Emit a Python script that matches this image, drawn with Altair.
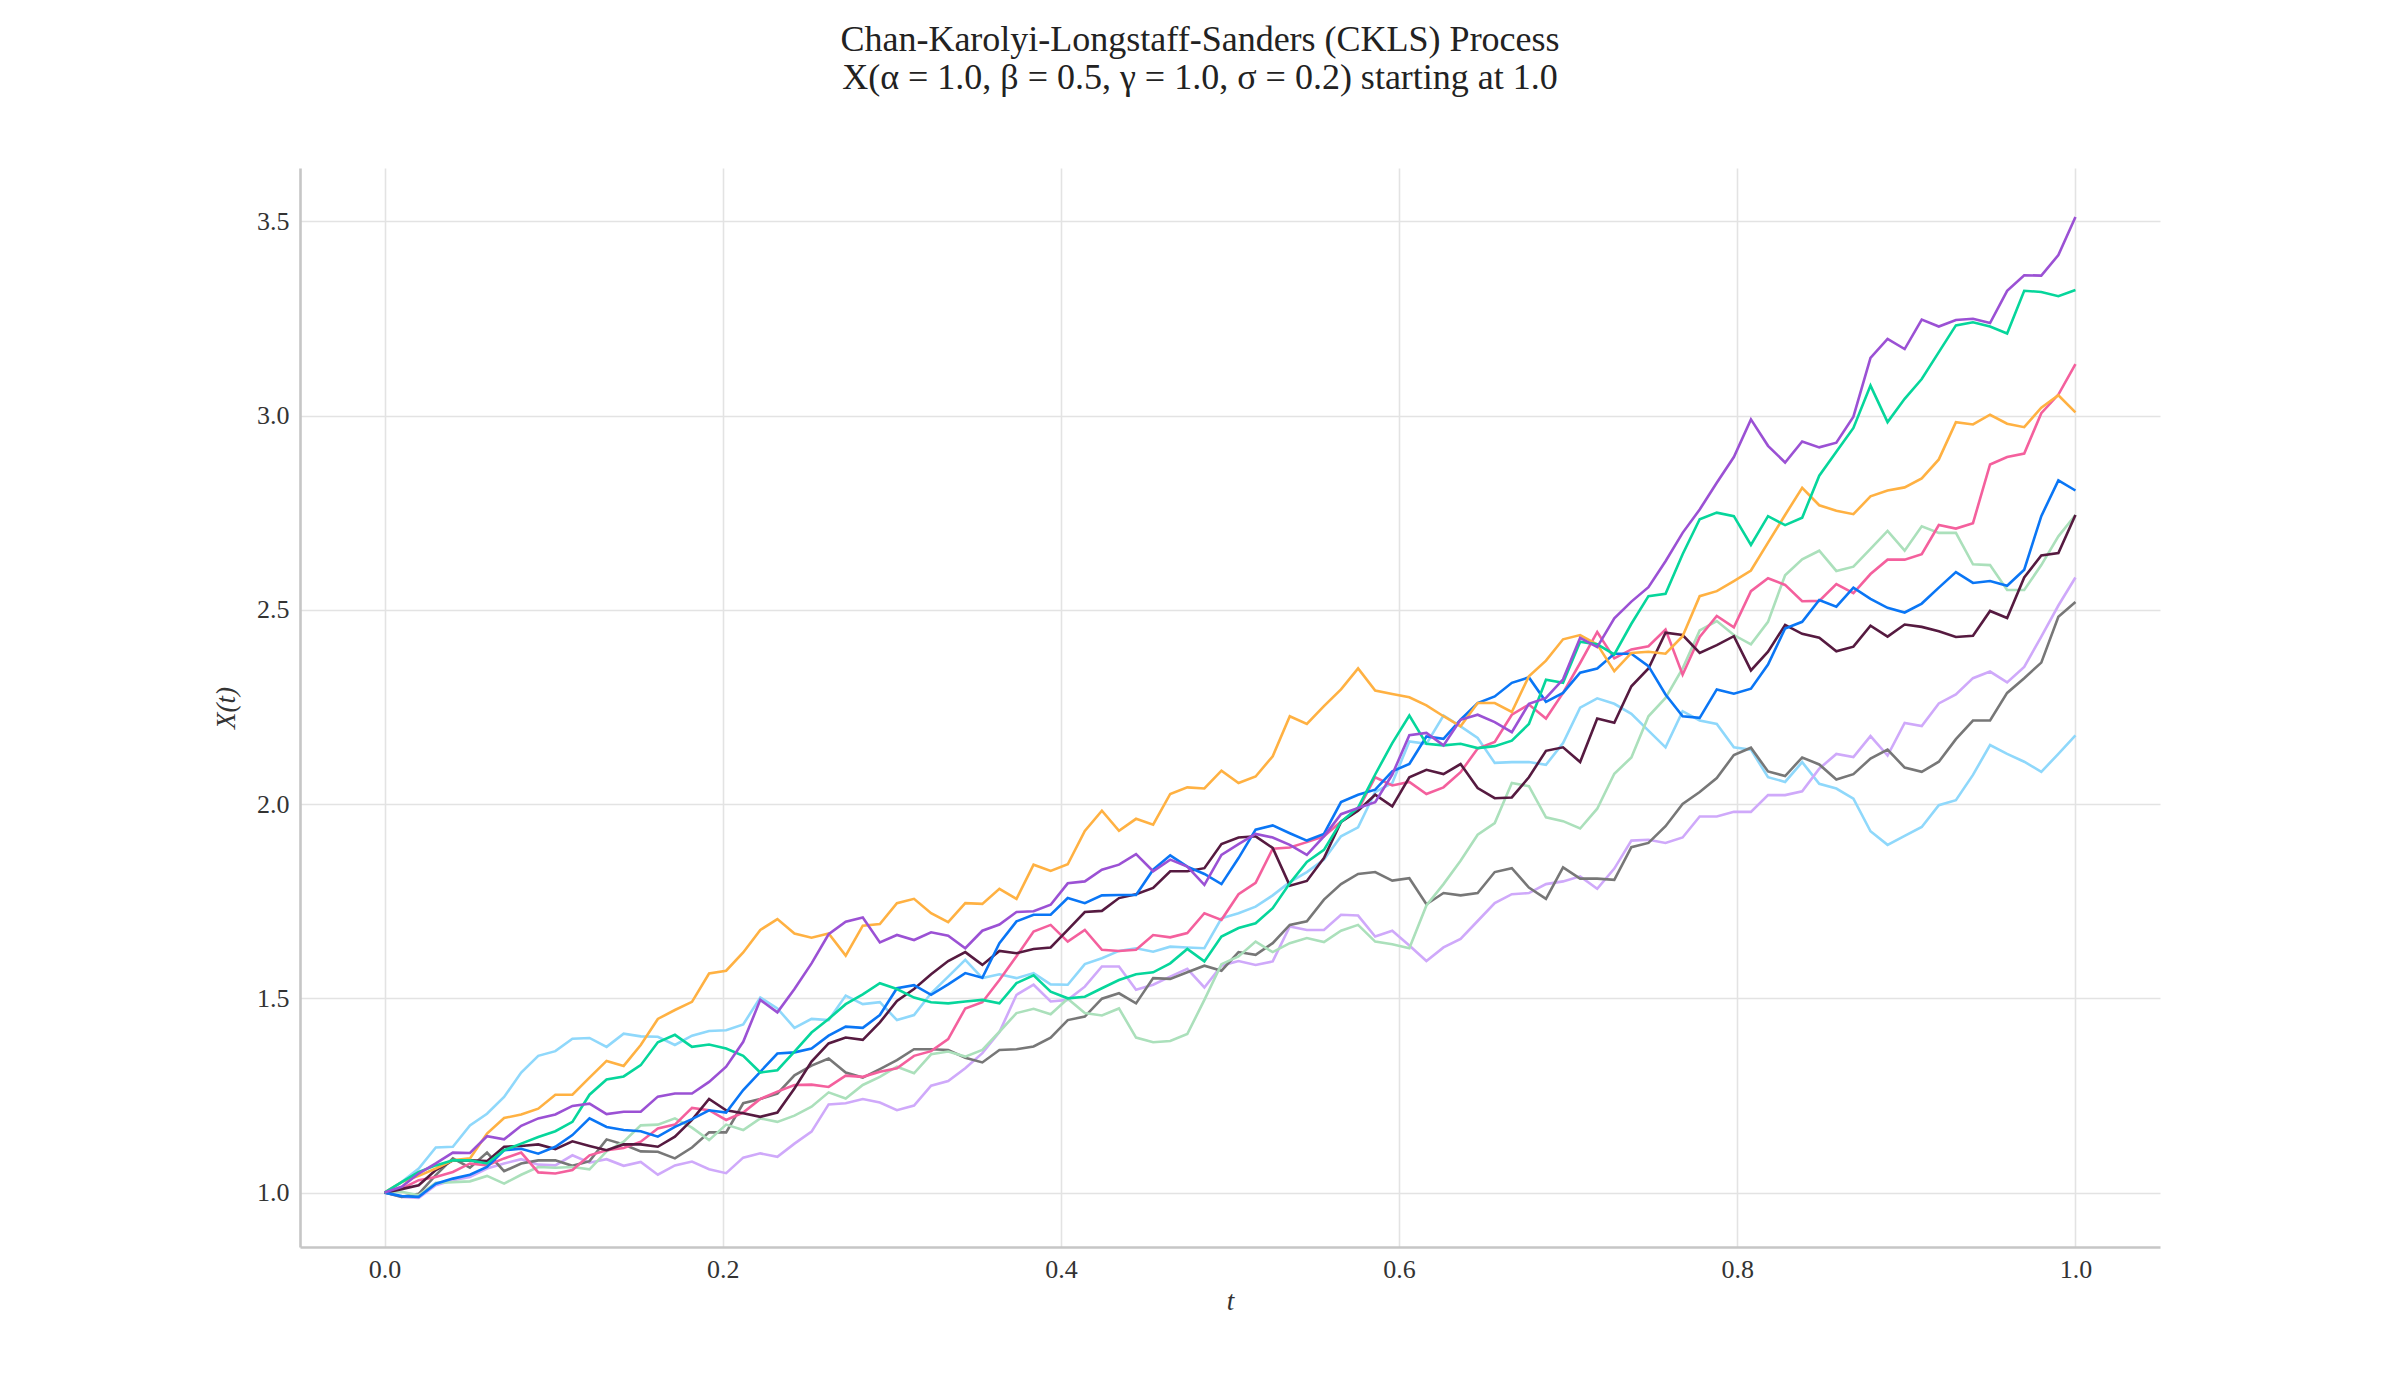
import altair as alt
import numpy as np
import pandas as pd

t_values = np.linspace(0.0, 1.0, 100)

orange = [1.0, 1.027, 1.043, 1.062, 1.083, 1.088, 1.152, 1.192, 1.201, 1.216, 1.252, 1.252, 1.296, 1.339, 1.326, 1.380,
          1.447, 1.470, 1.491, 1.564, 1.571, 1.618, 1.676, 1.704, 1.667, 1.656, 1.667, 1.610, 1.687, 1.691, 1.745, 1.756, 1.719, 1.696,
          1.745, 1.743, 1.782, 1.756, 1.844, 1.828, 1.845, 1.931, 1.983, 1.931, 1.962, 1.947, 2.026, 2.043, 2.040, 2.086, 2.054,
          2.071, 2.123, 2.226, 2.206, 2.252, 2.295, 2.349, 2.292, 2.283, 2.275, 2.254, 2.226, 2.200, 2.260, 2.260, 2.237, 2.329, 2.369,
          2.424, 2.435, 2.411, 2.342, 2.389, 2.392, 2.387, 2.432, 2.535, 2.548, 2.574, 2.601, 2.673, 2.744, 2.814,
          2.769, 2.755, 2.746, 2.792, 2.807, 2.815, 2.838, 2.887, 2.983, 2.977, 3.002, 2.979, 2.970, 3.020, 3.052, 3.008]

purple = [1.0, 1.015, 1.049, 1.075, 1.103, 1.102, 1.145, 1.137, 1.172, 1.191, 1.201, 1.223, 1.229, 1.202, 1.208, 1.208,
          1.247, 1.255, 1.255, 1.285, 1.324, 1.388, 1.496, 1.464, 1.524, 1.590, 1.665, 1.697, 1.708, 1.644, 1.663, 1.650, 1.670, 1.661,
          1.629, 1.674, 1.690, 1.722, 1.724, 1.741, 1.796, 1.801, 1.831, 1.844, 1.871, 1.827, 1.857, 1.839, 1.792, 1.869, 1.897,
          1.923, 1.914, 1.895, 1.869, 1.917, 1.974, 1.990, 2.005, 2.076, 2.177, 2.183, 2.151, 2.217, 2.230, 2.211, 2.185, 2.258, 2.273,
          2.321, 2.428, 2.404, 2.478, 2.521, 2.558, 2.625, 2.698, 2.758, 2.827, 2.893, 2.990, 2.922, 2.879, 2.933,
          2.918, 2.930, 2.997, 3.148, 3.197, 3.171, 3.247, 3.229, 3.246, 3.249, 3.238, 3.321, 3.361, 3.360, 3.413, 3.511]

green = [1.0, 1.027, 1.053, 1.070, 1.083, 1.083, 1.075, 1.109, 1.126, 1.143, 1.158, 1.182, 1.252, 1.291, 1.299, 1.328,
         1.387, 1.406, 1.375, 1.381, 1.371, 1.352, 1.309, 1.315, 1.363, 1.412, 1.447, 1.485, 1.510, 1.539, 1.524, 1.502, 1.490, 1.487,
         1.492, 1.496, 1.487, 1.539, 1.559, 1.517, 1.500, 1.504, 1.526, 1.547, 1.562, 1.567, 1.590, 1.627, 1.595, 1.659, 1.681,
         1.693, 1.732, 1.796, 1.851, 1.882, 1.954, 1.991, 2.076, 2.157, 2.228, 2.155, 2.151, 2.155, 2.144, 2.149, 2.163, 2.206, 2.320,
         2.312, 2.418, 2.411, 2.385, 2.464, 2.535, 2.541, 2.643, 2.733, 2.750, 2.741, 2.667, 2.741, 2.718, 2.737,
         2.845, 2.907, 2.968, 3.077, 2.983, 3.043, 3.094, 3.163, 3.232, 3.240, 3.229, 3.211, 3.321, 3.318, 3.307, 3.323]

blue = [1.0, 0.991, 0.989, 1.023, 1.036, 1.046, 1.066, 1.109, 1.113, 1.100, 1.118, 1.148, 1.191, 1.169, 1.161, 1.158,
        1.144, 1.169, 1.189, 1.212, 1.206, 1.264, 1.311, 1.358, 1.361, 1.371, 1.404, 1.427, 1.424, 1.457, 1.526, 1.534, 1.509, 1.536,
        1.565, 1.553, 1.642, 1.698, 1.715, 1.715, 1.758, 1.745, 1.765, 1.766, 1.766, 1.831, 1.868, 1.839, 1.820, 1.794, 1.861,
        1.934, 1.945, 1.925, 1.906, 1.923, 2.005, 2.024, 2.037, 2.084, 2.103, 2.174, 2.168, 2.217, 2.260, 2.277, 2.312, 2.326, 2.263,
        2.286, 2.338, 2.349, 2.387, 2.387, 2.355, 2.282, 2.226, 2.222, 2.295, 2.284, 2.297, 2.359, 2.452, 2.469,
        2.525, 2.508, 2.557, 2.528, 2.505, 2.493, 2.516, 2.557, 2.597, 2.569, 2.574, 2.562, 2.603, 2.741, 2.833, 2.807]

maroon = [1.0, 1.009, 1.019, 1.058, 1.083, 1.083, 1.081, 1.118, 1.120, 1.124, 1.112, 1.132, 1.120, 1.109, 1.124, 1.124,
          1.118, 1.144, 1.187, 1.241, 1.212, 1.204, 1.195, 1.206, 1.268, 1.337, 1.384, 1.399, 1.393, 1.438, 1.493, 1.524, 1.562, 1.596,
          1.619, 1.586, 1.622, 1.616, 1.627, 1.631, 1.676, 1.722, 1.725, 1.758, 1.768, 1.784, 1.827, 1.827, 1.835, 1.897, 1.914,
          1.917, 1.887, 1.790, 1.802, 1.861, 1.954, 1.983, 2.024, 1.994, 2.069, 2.088, 2.077, 2.103, 2.041, 2.015, 2.017, 2.069, 2.137,
          2.146, 2.108, 2.220, 2.209, 2.303, 2.349, 2.441, 2.435, 2.389, 2.409, 2.432, 2.344, 2.392, 2.461, 2.438,
          2.428, 2.393, 2.405, 2.459, 2.431, 2.462, 2.456, 2.445, 2.430, 2.433, 2.497, 2.479, 2.583, 2.640, 2.646, 2.744]

gray = [1.0, 0.989, 0.997, 1.045, 1.088, 1.064, 1.103, 1.055, 1.075, 1.083, 1.083, 1.069, 1.081, 1.137, 1.124, 1.106,
        1.105, 1.088, 1.116, 1.155, 1.155, 1.230, 1.241, 1.255, 1.302, 1.327, 1.345, 1.309, 1.296, 1.318, 1.341, 1.369, 1.369, 1.367,
        1.347, 1.335, 1.367, 1.369, 1.376, 1.399, 1.444, 1.453, 1.499, 1.513, 1.487, 1.552, 1.550, 1.567, 1.584, 1.571, 1.619,
        1.612, 1.642, 1.689, 1.698, 1.754, 1.794, 1.820, 1.825, 1.803, 1.809, 1.742, 1.771, 1.765, 1.771, 1.825, 1.835, 1.785, 1.756,
        1.837, 1.808, 1.808, 1.805, 1.889, 1.900, 1.943, 2.000, 2.031, 2.067, 2.126, 2.145, 2.084, 2.072, 2.120,
        2.102, 2.063, 2.077, 2.117, 2.140, 2.094, 2.083, 2.109, 2.167, 2.215, 2.215, 2.286, 2.324, 2.364, 2.482, 2.520]

pink = [1.0, 1.010, 1.032, 1.040, 1.053, 1.075, 1.070, 1.088, 1.103, 1.052, 1.049, 1.058, 1.096, 1.109, 1.115, 1.131,
        1.165, 1.175, 1.218, 1.212, 1.187, 1.206, 1.241, 1.260, 1.277, 1.278, 1.272, 1.301, 1.298, 1.311, 1.320, 1.352, 1.364, 1.395,
        1.474, 1.490, 1.547, 1.608, 1.672, 1.689, 1.646, 1.676, 1.625, 1.622, 1.625, 1.663, 1.657, 1.668, 1.719, 1.702, 1.768,
        1.797, 1.885, 1.888, 1.902, 1.917, 1.955, 1.985, 2.069, 2.048, 2.057, 2.026, 2.043, 2.082, 2.143, 2.160, 2.230, 2.256, 2.220,
        2.286, 2.363, 2.443, 2.375, 2.398, 2.406, 2.449, 2.333, 2.430, 2.484, 2.455, 2.548, 2.581, 2.564, 2.522,
        2.523, 2.566, 2.543, 2.592, 2.629, 2.629, 2.643, 2.718, 2.709, 2.723, 2.874, 2.893, 2.902, 3.006, 3.054, 3.132]

light_green = [1.0, 1.002, 0.993, 1.025, 1.027, 1.029, 1.043, 1.023, 1.046, 1.066, 1.064, 1.066, 1.060, 1.106, 1.131, 1.173,
               1.175, 1.191, 1.167, 1.135, 1.175, 1.161, 1.191, 1.182, 1.198, 1.221, 1.258, 1.242, 1.277, 1.298, 1.324, 1.307, 1.356, 1.363,
               1.350, 1.367, 1.414, 1.462, 1.473, 1.459, 1.499, 1.462, 1.456, 1.474, 1.399, 1.387, 1.390, 1.408, 1.496, 1.588, 1.608,
               1.646, 1.619, 1.642, 1.655, 1.645, 1.674, 1.689, 1.646, 1.639, 1.629, 1.739, 1.794, 1.854, 1.921, 1.951, 2.054, 2.046, 1.966,
               1.956, 1.937, 1.988, 2.078, 2.120, 2.226, 2.273, 2.349, 2.447, 2.471, 2.435, 2.411, 2.469, 2.589, 2.630,
               2.652, 2.600, 2.611, 2.657, 2.703, 2.652, 2.715, 2.698, 2.698, 2.617, 2.615, 2.551, 2.551, 2.615, 2.689, 2.744]

lavender = [1.0, 0.989, 0.986, 1.019, 1.032, 1.040, 1.062, 1.075, 1.086, 1.072, 1.070, 1.096, 1.077, 1.086, 1.069, 1.079,
            1.046, 1.070, 1.080, 1.060, 1.050, 1.090, 1.101, 1.092, 1.126, 1.157, 1.227, 1.230, 1.241, 1.232, 1.212, 1.224, 1.275, 1.287,
            1.320, 1.359, 1.413, 1.509, 1.535, 1.492, 1.496, 1.530, 1.582, 1.582, 1.522, 1.535, 1.556, 1.576, 1.528, 1.584, 1.596,
            1.586, 1.595, 1.685, 1.676, 1.676, 1.715, 1.713, 1.659, 1.674, 1.636, 1.596, 1.631, 1.653, 1.699, 1.745, 1.768, 1.771, 1.794,
            1.801, 1.814, 1.782, 1.834, 1.906, 1.908, 1.900, 1.914, 1.968, 1.968, 1.980, 1.980, 2.023, 2.023, 2.033,
            2.091, 2.129, 2.121, 2.175, 2.125, 2.209, 2.201, 2.259, 2.282, 2.324, 2.341, 2.313, 2.353, 2.431, 2.511, 2.583]

light_blue = [1.0, 1.027, 1.062, 1.116, 1.118, 1.173, 1.203, 1.246, 1.309, 1.352, 1.364, 1.396, 1.398, 1.375, 1.409, 1.402,
              1.401, 1.380, 1.404, 1.416, 1.418, 1.433, 1.502, 1.474, 1.424, 1.447, 1.444, 1.507, 1.485, 1.490, 1.444, 1.457, 1.513, 1.556,
              1.599, 1.552, 1.562, 1.552, 1.565, 1.536, 1.535, 1.588, 1.603, 1.622, 1.629, 1.620, 1.633, 1.631, 1.629, 1.706, 1.719,
              1.736, 1.765, 1.799, 1.825, 1.857, 1.917, 1.940, 2.031, 2.054, 2.161, 2.155, 2.228, 2.200, 2.170, 2.106, 2.108, 2.108, 2.101,
              2.157, 2.248, 2.272, 2.258, 2.232, 2.189, 2.146, 2.239, 2.215, 2.206, 2.146, 2.140, 2.069, 2.057, 2.108,
              2.052, 2.040, 2.014, 1.930, 1.895, 1.918, 1.941, 1.997, 2.010, 2.075, 2.152, 2.129, 2.109, 2.083, 2.129, 2.177]

path_names = ["p01", "p02", "p03", "p04", "p05", "p06", "p07", "p08", "p09", "p10"]
path_values = [light_blue, lavender, gray, light_green, pink, maroon, blue, orange, green, purple]
path_colors = ["#8fd8fb", "#cfa9fa", "#777777", "#abe0bb", "#f4609d", "#561a40", "#0a76f5", "#ffb142", "#06d69b", "#9b51d4"]

x_ticks = [0.0, 0.2, 0.4, 0.6, 0.8, 1.0]
y_ticks = [1.0, 1.5, 2.0, 2.5, 3.0, 3.5]

frames = []
for name, vals in zip(path_names, path_values):
    frames.append(pd.DataFrame({"t": t_values, "X": vals, "path": name}))
df = pd.concat(frames, ignore_index=True)

serif = "Liberation Serif"

chart = alt.Chart(df).mark_line(strokeWidth=2.6, strokeJoin="miter", clip=True).encode(
    x=alt.X("t:Q", title="t",
            scale=alt.Scale(domain=[-0.05, 1.05], nice=False, zero=False),
            axis=alt.Axis(values=x_ticks, format=".1f", ticks=False, labelPadding=9,
                          titlePadding=6, titleFontStyle="italic")),
    y=alt.Y("X:Q", title="X(t)",
            scale=alt.Scale(domain=[0.86, 3.637], nice=False, zero=False),
            axis=alt.Axis(values=y_ticks, format=".1f", ticks=False, labelPadding=11,
                          titlePadding=16, titleFontStyle="italic")),
    color=alt.Color("path:N", scale=alt.Scale(domain=path_names, range=path_colors), legend=None),
    order=alt.Order("t:Q"),
).properties(
    width=1860,
    height=1079,
    autosize=alt.AutoSizeParams(type="none"),
    padding={"left": 300, "top": 168, "right": 240, "bottom": 153},
    title=alt.TitleParams(
        text=["Chan-Karolyi-Longstaff-Sanders (CKLS) Process",
              "X(α = 1.0, β = 0.5, γ = 1.0, σ = 0.2) starting at 1.0"],
        font=serif, fontSize=36, fontWeight="normal", color="#222222",
        anchor="middle", dx=-30, offset=71, lineHeight=38,
    ),
).configure_view(
    stroke=None
).configure_axis(
    labelFont=serif, labelFontSize=26, labelColor="#333333",
    titleFont=serif, titleFontSize=27, titleFontWeight="normal", titleColor="#333333",
    grid=True, gridColor="#e3e3e3", gridWidth=1.6,
    domainColor="#c6c6c6", domainWidth=2.6,
)

chart.save("out.html", embed_options={"renderer": "svg", "actions": False})
